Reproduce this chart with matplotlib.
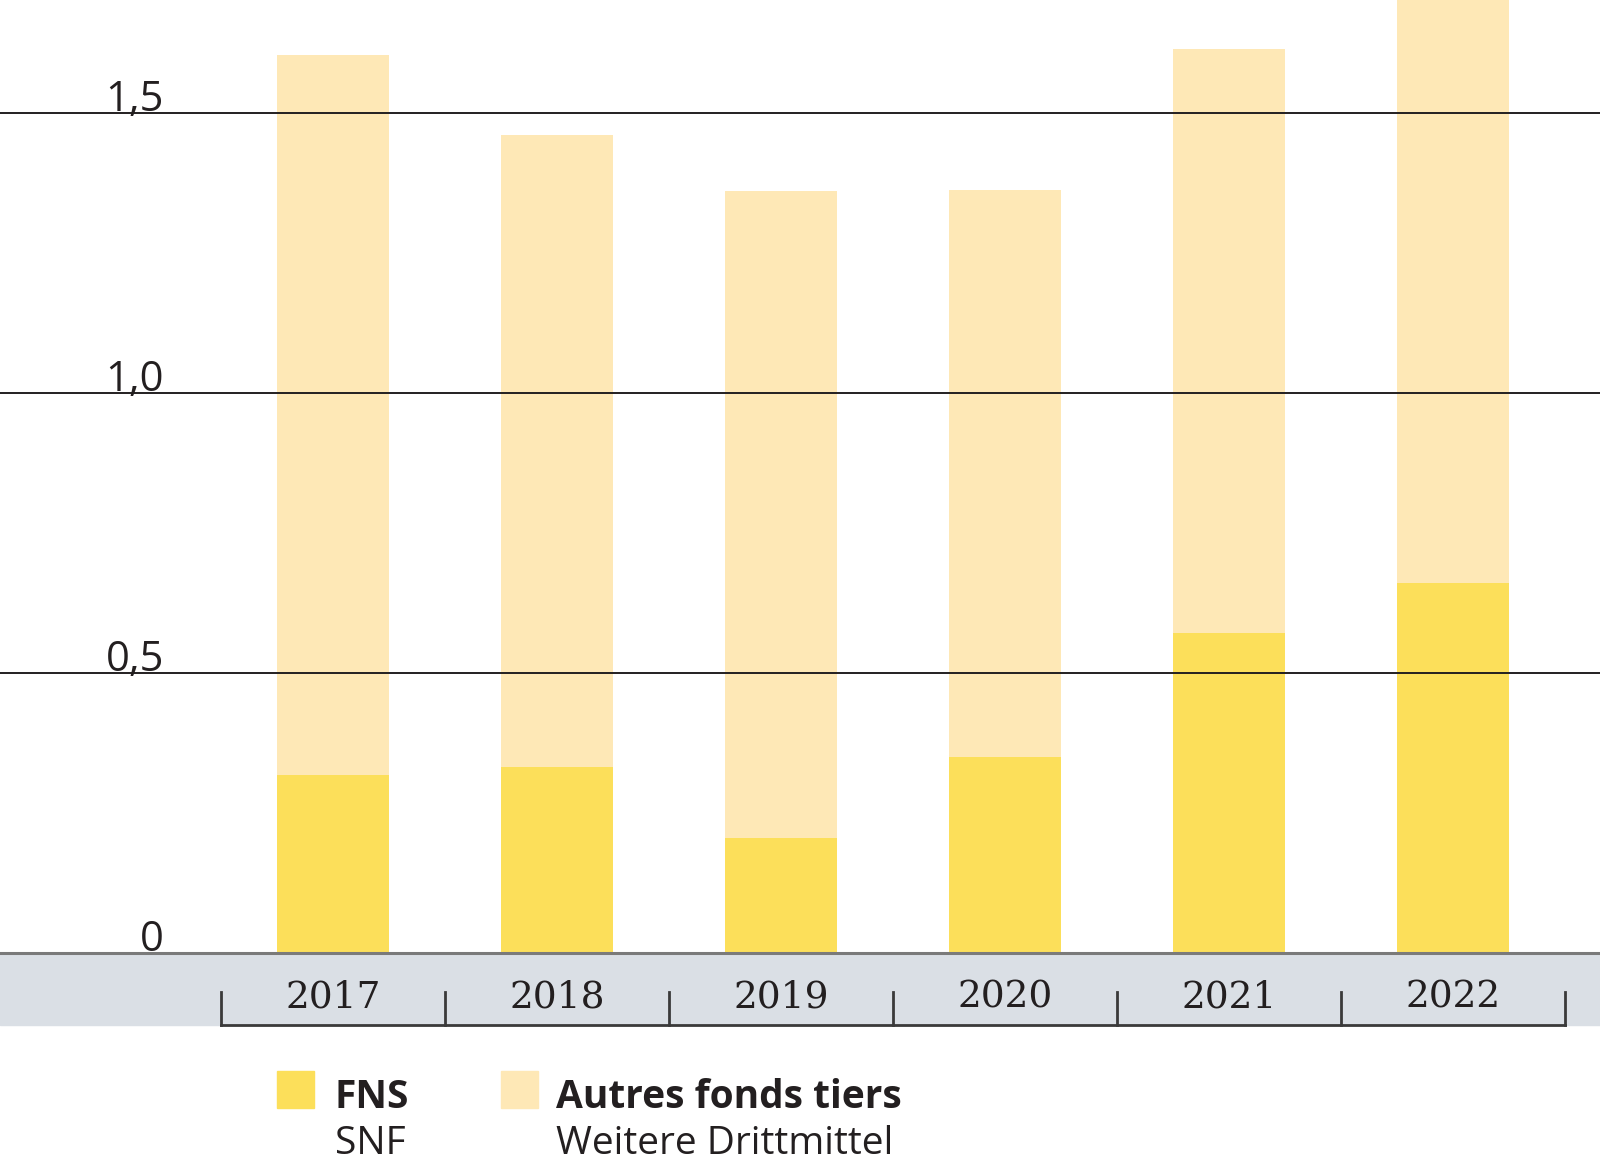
import matplotlib.pyplot as plt
from matplotlib.patches import Rectangle
from matplotlib.transforms import blended_transform_factory

years = ['2017', '2018', '2019', '2020', '2021', '2022']
fns = [0.317, 0.333, 0.206, 0.350, 0.572, 0.661]
other = [1.287, 1.128, 1.155, 1.013, 1.042, 1.090]
yticks = [0, 0.5, 1.0, 1.5]
ytick_labels = ['0', '0,5', '1,0', '1,5']

C_FNS = '#FCDF5A'
C_OTHER = '#FEE8B6'
C_BAND = '#DADFE5'
C_TEXT = '#231F20'

W, H = 1600, 1174
fig = plt.figure(figsize=(W / 100, H / 100), dpi=100)

# plot area: zero line at y=953 px, top of figure at 0 px
ax = fig.add_axes([0, (H - 953) / H, 1, 953 / H])
x = list(range(len(years)))
ax.bar(x, fns, width=0.5, color=C_FNS, zorder=2)
ax.bar(x, other, width=0.5, bottom=fns, color=C_OTHER, zorder=2)

ax.set_xlim(-333 / 224, (W - 333) / 224)
ax.set_ylim(0, 953 / 560)
ax.axis('off')

for v, lab in zip(yticks, ytick_labels):
    if v > 0:
        ax.axhline(v, color=C_TEXT, lw=1.4, zorder=3)
    ax.text(-0.755, v + 0.004, lab, ha='right', va='baseline', fontsize=30,
            family='Open Sans', color=C_TEXT, zorder=4)
ax.axhline(0, color='#7A7A7A', lw=2.2, zorder=4, clip_on=False)

# grey band under the axis with year brackets
fig.patches.append(Rectangle((0, (H - 1025) / H), 1, 72 / H, transform=fig.transFigure,
                             color=C_BAND, zorder=-1))
tr = blended_transform_factory(ax.transData, fig.transFigure)
y_bot = (H - 1025) / H
y_tick = (H - 992) / H
ax.plot([-0.5, len(years) - 0.5], [y_bot, y_bot], color='#3A3A3A', lw=2,
        transform=tr, clip_on=False, zorder=5)
for i in range(len(years) + 1):
    ax.plot([i - 0.5, i - 0.5], [y_bot, y_tick], color='#3A3A3A', lw=2,
            transform=tr, clip_on=False, zorder=5)
for i, yr in enumerate(years):
    ax.text(i, (H - 997) / H, yr, ha='center', va='center', fontsize=27,
            family='DejaVu Serif', color=C_TEXT, transform=tr, zorder=5,
            clip_on=False)

# legend
sq = 37
for x0, col, t1, t2, tx in [(277, C_FNS, 'FNS', 'SNF', 335),
                            (501, C_OTHER, 'Autres fonds tiers', 'Weitere Drittmittel', 556)]:
    fig.patches.append(Rectangle((x0 / W, (H - 1108) / H), sq / W, sq / H,
                                 transform=fig.transFigure, color=col))
    fig.text(tx / W, (H - 1108) / H, t1, ha='left', va='baseline', fontsize=28,
             family='Open Sans', fontweight='bold', color=C_TEXT)
    fig.text(tx / W, (H - 1154) / H, t2, ha='left', va='baseline', fontsize=28,
             family='Open Sans', color=C_TEXT)

fig.savefig('out.png', dpi=100)
